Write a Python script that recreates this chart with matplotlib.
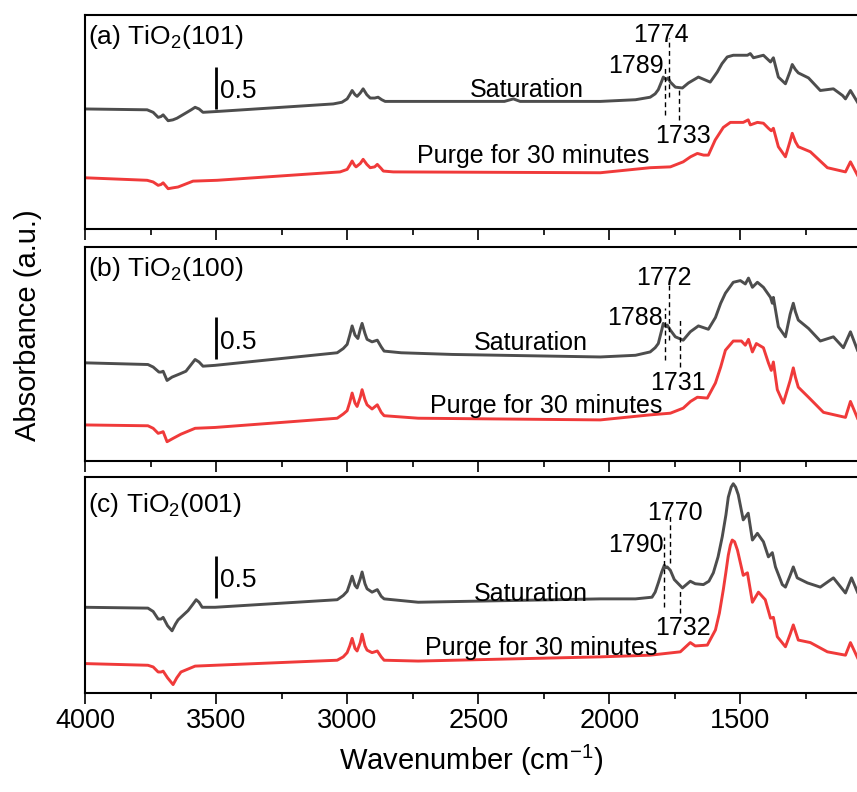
import matplotlib.pyplot as plt
from matplotlib.ticker import MultipleLocator

plt.rcParams['font.family'] = ['Liberation Sans', 'DejaVu Sans']
plt.rcParams['mathtext.fontset'] = 'custom'
plt.rcParams['mathtext.rm'] = 'Liberation Sans'
plt.rcParams['mathtext.it'] = 'Liberation Sans:italic'

# ---- data (wavenumber in cm-1, absorbance incl. stacking offset)
# (a) TiO2(101)
a_sat_wn = [4000, 3763, 3740, 3721, 3710, 3702, 3683, 3665, 3649, 3611, 3595, 3580, 3565, 3550,
            3496, 3053, 3020, 3000, 2990, 2981, 2970, 2962, 2950, 2939, 2925, 2912, 2895, 2882,
            2868, 2855, 2824, 2400, 2366, 2340, 2034, 1900, 1844, 1825, 1813, 1800, 1794, 1783,
            1776, 1767, 1748, 1721, 1698, 1660, 1615, 1588, 1570, 1550, 1527, 1473, 1462, 1450,
            1412, 1385, 1374, 1355, 1328, 1310, 1302, 1290, 1279, 1240, 1195, 1145, 1110, 1099,
            1080, 1053]
a_sat = [1.43, 1.42, 1.39, 1.33, 1.34, 1.36, 1.29, 1.30, 1.32, 1.39, 1.42, 1.45, 1.43, 1.39,
         1.40, 1.49, 1.51, 1.55, 1.60, 1.65, 1.60, 1.58, 1.62, 1.67, 1.60, 1.56, 1.56, 1.57,
         1.54, 1.52, 1.52, 1.52, 1.55, 1.52, 1.52, 1.54, 1.57, 1.61, 1.66, 1.76, 1.81, 1.78,
         1.80, 1.75, 1.69, 1.68, 1.74, 1.81, 1.75, 1.87, 1.97, 2.05, 2.07, 2.07, 2.09, 2.04,
         2.07, 1.99, 2.04, 1.81, 1.73, 1.88, 1.96, 1.90, 1.86, 1.80, 1.65, 1.67, 1.59, 1.55,
         1.65, 1.51]
a_pur_wn = [4000, 3763, 3740, 3721, 3710, 3702, 3683, 3665, 3645, 3588, 3496, 3027, 3000, 2990,
            2981, 2972, 2966, 2950, 2939, 2925, 2912, 2895, 2885, 2870, 2862, 2824, 2034, 1844,
            1767, 1718, 1690, 1664, 1640, 1622, 1596, 1565, 1538, 1489, 1470, 1462, 1435, 1412,
            1393, 1382, 1374, 1355, 1328, 1310, 1302, 1290, 1279, 1233, 1168, 1099, 1080, 1053]
a_pur = [0.61, 0.58, 0.56, 0.52, 0.53, 0.55, 0.48, 0.49, 0.50, 0.57, 0.58, 0.68, 0.71, 0.76,
         0.81, 0.76, 0.74, 0.78, 0.83, 0.77, 0.73, 0.74, 0.77, 0.72, 0.69, 0.68, 0.67, 0.73,
         0.74, 0.80, 0.86, 0.90, 0.88, 0.88, 1.06, 1.21, 1.27, 1.27, 1.30, 1.24, 1.27, 1.26,
         1.20, 1.17, 1.20, 0.98, 0.86, 1.05, 1.14, 1.04, 0.98, 0.92, 0.73, 0.68, 0.80, 0.64]

# (b) TiO2(100)
b_sat_wn = [4000, 3760, 3740, 3718, 3710, 3702, 3687, 3668, 3637, 3615, 3595, 3580, 3565, 3550,
            3504, 3038, 3015, 3000, 2990, 2981, 2970, 2959, 2950, 2943, 2932, 2924, 2905, 2885,
            2870, 2859, 2794, 2599, 2034, 1900, 1844, 1825, 1813, 1800, 1794, 1784, 1779, 1767,
            1748, 1718, 1691, 1660, 1622, 1595, 1575, 1557, 1527, 1500, 1481, 1469, 1454, 1435,
            1412, 1385, 1378, 1374, 1355, 1328, 1310, 1298, 1290, 1279, 1240, 1195, 1145, 1107,
            1080, 1053]
b_sat = [1.17, 1.15, 1.12, 1.06, 1.06, 1.07, 0.96, 1.00, 1.04, 1.07, 1.15, 1.21, 1.18, 1.13,
         1.14, 1.29, 1.34, 1.39, 1.50, 1.61, 1.50, 1.46, 1.57, 1.64, 1.52, 1.45, 1.42, 1.44,
         1.36, 1.31, 1.29, 1.27, 1.24, 1.26, 1.30, 1.35, 1.40, 1.56, 1.64, 1.60, 1.62, 1.56,
         1.48, 1.44, 1.54, 1.61, 1.57, 1.71, 1.88, 2.00, 2.13, 2.15, 2.11, 2.18, 2.07, 2.13,
         2.07, 1.95, 1.88, 1.95, 1.60, 1.48, 1.75, 1.88, 1.78, 1.68, 1.58, 1.43, 1.48, 1.35,
         1.54, 1.32]
b_pur_wn = [4000, 3760, 3740, 3721, 3710, 3702, 3687, 3664, 3634, 3580, 3504, 3038, 3015, 3000,
            2990, 2981, 2970, 2962, 2950, 2943, 2932, 2924, 2905, 2885, 2870, 2859, 2729, 2034,
            1844, 1767, 1718, 1690, 1664, 1626, 1595, 1575, 1557, 1527, 1496, 1481, 1469, 1454,
            1439, 1412, 1393, 1382, 1374, 1359, 1336, 1310, 1298, 1290, 1279, 1240, 1183, 1099,
            1080, 1053]
b_pur = [0.43, 0.42, 0.39, 0.33, 0.34, 0.35, 0.23, 0.27, 0.32, 0.39, 0.40, 0.51, 0.56, 0.60,
         0.70, 0.81, 0.69, 0.65, 0.76, 0.85, 0.73, 0.67, 0.62, 0.67, 0.58, 0.54, 0.51, 0.49,
         0.55, 0.57, 0.63, 0.71, 0.76, 0.75, 0.93, 1.12, 1.32, 1.43, 1.43, 1.38, 1.45, 1.30,
         1.40, 1.35, 1.17, 1.08, 1.18, 0.85, 0.69, 0.96, 1.11, 1.00, 0.88, 0.76, 0.58, 0.52,
         0.71, 0.51]

# (c) TiO2(001)
c_sat_wn = [4000, 3760, 3740, 3721, 3710, 3702, 3685, 3668, 3655, 3645, 3607, 3590, 3576, 3565,
            3553, 3504, 3038, 3015, 3000, 2990, 2981, 2970, 2962, 2950, 2943, 2932, 2924, 2905,
            2885, 2870, 2859, 2729, 2034, 1900, 1837, 1825, 1813, 1800, 1790, 1784, 1779, 1767,
            1752, 1721, 1691, 1672, 1641, 1620, 1603, 1585, 1569, 1555, 1546, 1535, 1527, 1518,
            1508, 1489, 1470, 1454, 1435, 1412, 1393, 1378, 1366, 1340, 1328, 1310, 1298, 1283,
            1244, 1195, 1145, 1099, 1076, 1053]
c_sat = [1.02, 1.01, 0.97, 0.88, 0.88, 0.90, 0.80, 0.74, 0.82, 0.87, 0.98, 1.05, 1.11, 1.08,
         1.02, 1.02, 1.11, 1.16, 1.21, 1.30, 1.39, 1.28, 1.25, 1.36, 1.44, 1.30, 1.24, 1.20,
         1.23, 1.15, 1.12, 1.08, 1.12, 1.12, 1.14, 1.20, 1.31, 1.44, 1.52, 1.49, 1.50, 1.46,
         1.35, 1.25, 1.33, 1.30, 1.29, 1.33, 1.43, 1.62, 1.86, 2.12, 2.33, 2.45, 2.49, 2.45,
         2.36, 2.06, 2.14, 1.82, 1.90, 1.80, 1.62, 1.67, 1.50, 1.29, 1.26, 1.40, 1.50, 1.37,
         1.31, 1.26, 1.37, 1.19, 1.37, 1.20]
c_pur_wn = [4000, 3760, 3740, 3721, 3710, 3702, 3685, 3664, 3650, 3634, 3580, 3504, 3038, 3015,
            3000, 2990, 2981, 2970, 2962, 2950, 2943, 2932, 2924, 2905, 2885, 2870, 2859, 2729,
            2034, 1844, 1729, 1691, 1672, 1626, 1595, 1580, 1565, 1555, 1546, 1538, 1531, 1522,
            1511, 1489, 1473, 1454, 1431, 1405, 1385, 1374, 1359, 1328, 1310, 1298, 1279, 1233,
            1168, 1099, 1080, 1053]
c_pur = [0.35, 0.33, 0.31, 0.25, 0.25, 0.26, 0.18, 0.10, 0.18, 0.25, 0.32, 0.33, 0.39, 0.43,
         0.48, 0.56, 0.65, 0.53, 0.50, 0.60, 0.70, 0.56, 0.51, 0.48, 0.50, 0.43, 0.39, 0.38,
         0.43, 0.45, 0.49, 0.60, 0.56, 0.57, 0.75, 0.95, 1.23, 1.44, 1.64, 1.76, 1.82, 1.80,
         1.70, 1.40, 1.43, 1.08, 1.20, 1.11, 0.89, 0.90, 0.67, 0.55, 0.70, 0.81, 0.63, 0.60,
         0.49, 0.45, 0.60, 0.42]

panel_labels = ['(a) TiO$_2$(101)', '(b) TiO$_2$(100)', '(c) TiO$_2$(001)']
peaks = [[1789, 1774, 1733], [1788, 1772, 1731], [1790, 1770, 1732]]

sat_color = '#4d4d4d'
pur_color = '#f03a3a'

fig = plt.figure(figsize=(8.57, 7.92), dpi=100)
# axes boxes in figure fractions (left, bottom, width, height)
boxes = [(0.0992, 0.7109, 0.9008, 0.2702),
         (0.0992, 0.4179, 0.9008, 0.2702),
         (0.0992, 0.1250, 0.9008, 0.2727)]
ylims = [2.55, 2.55, 2.57]

sats = [(a_sat_wn, a_sat), (b_sat_wn, b_sat), (c_sat_wn, c_sat)]
purs = [(a_pur_wn, a_pur), (b_pur_wn, b_pur), (c_pur_wn, c_pur)]

# annotation layout per panel
dash_ext = [[(1.36, 1.93), (1.57, 2.27), (1.30, 1.68)],
            [(1.20, 1.82), (1.44, 2.12), (1.12, 1.68)],
            [(1.02, 1.86), (1.55, 2.14), (0.95, 1.23)]]
peak_txt = [[(1794, 1.86, 'right'), (1802, 2.23, 'center'), (1718, 1.02, 'center')],
            [(1794, 1.62, 'right'), (1790, 2.10, 'center'), (1737, 0.85, 'center')],
            [(1794, 1.68, 'right'), (1748, 2.06, 'center'), (1718, 0.69, 'center')]]
sat_txt = [(2313, 1.57), (2298, 1.32), (2298, 1.10)]
pur_txt = [(2733, 0.79), (2683, 0.57), (2702, 0.45)]
bar = [(1.43, 1.93, 1.56), (1.22, 1.72, 1.33), (1.13, 1.63, 1.26)]
lab_y = [0.864, 0.864, 0.838]

fs = 18
axes = []
for i in range(3):
    ax = fig.add_axes(boxes[i])
    axes.append(ax)
    ax.plot(*sats[i], color=sat_color, lw=2.1, solid_joinstyle='round')
    ax.plot(*purs[i], color=pur_color, lw=2.1, solid_joinstyle='round')
    ax.set_xlim(4000, 1055)
    ax.set_ylim(0, ylims[i])
    ax.set_yticks([])
    ax.spines['right'].set_visible(False)
    for s in ['left', 'top', 'bottom']:
        ax.spines[s].set_linewidth(1.5)
    ax.xaxis.set_major_locator(MultipleLocator(500))
    ax.xaxis.set_minor_locator(MultipleLocator(250))
    ax.tick_params(axis='x', which='major', direction='out', length=8, width=1.2,
                   labelsize=19.5, pad=3)
    ax.tick_params(axis='x', which='minor', direction='out', length=4, width=1.2)
    if i < 2:
        ax.tick_params(axis='x', which='both', labelbottom=False)

    # dashed peak markers and labels
    for k, wn in enumerate(peaks[i]):
        y0, y1 = dash_ext[i][k]
        ax.plot([wn, wn], [y0, y1], color='k', lw=1.0, ls=(0, (3.5, 2.5)))
        tx, ty, ha = peak_txt[i][k]
        ax.text(tx, ty, str(wn), fontsize=fs, ha=ha, va='baseline')

    # scale bar
    b0, b1, by = bar[i]
    ax.plot([3500, 3500], [b0, b1], color='k', lw=2.0, solid_capstyle='butt')
    ax.text(3485, by, '0.5', fontsize=fs + 1, ha='left', va='baseline')

    ax.text(*sat_txt[i], 'Saturation', fontsize=fs, ha='center', va='baseline')
    ax.text(*pur_txt[i], 'Purge for 30 minutes', fontsize=fs, ha='left', va='baseline')
    ax.text(0.004, lab_y[i], panel_labels[i], transform=ax.transAxes,
            fontsize=fs + 1, ha='left', va='baseline')

axes[2].set_xlabel('Wavenumber (cm$^{-1}$)', fontsize=21, labelpad=6)
fig.text(0.033, 0.59, 'Absorbance (a.u.)', rotation=90, fontsize=21,
         ha='center', va='center')

fig.savefig('out.png', dpi=100)
